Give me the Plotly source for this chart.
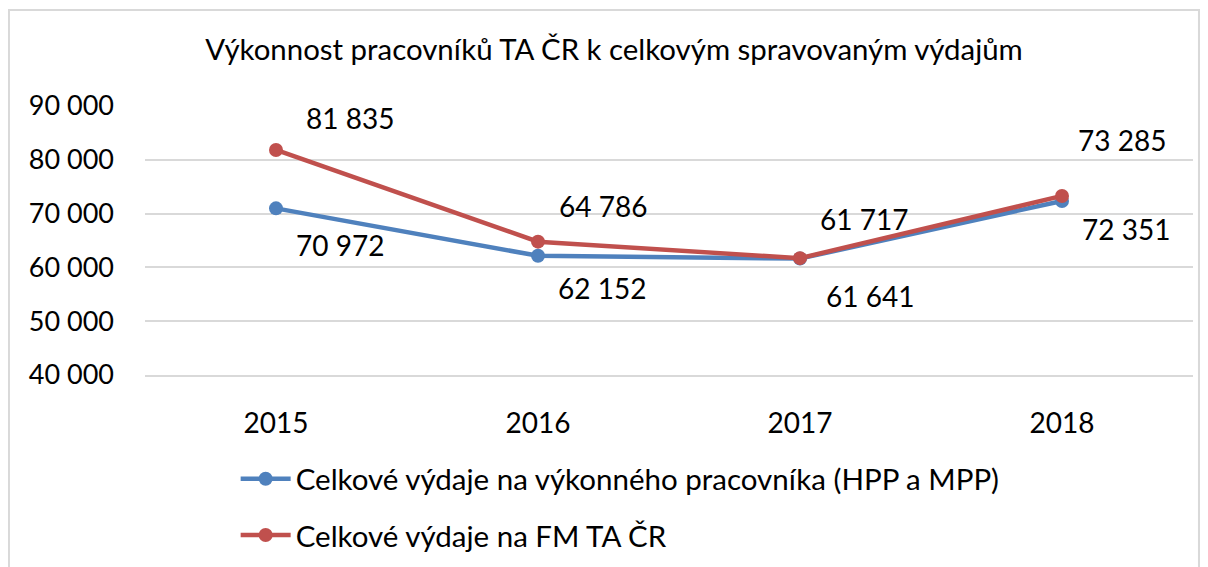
import plotly.graph_objects as go

# data
roky = ["2015", "2016", "2017", "2018"]
vydaje_pracovnik = [70972, 62152, 61641, 72351]
vydaje_fm = [81835, 64786, 61717, 73285]
y_ticks = [40000, 50000, 60000, 70000, 80000, 90000]
y_tick_text = ["40 000", "50 000", "60 000", "70 000", "80 000", "90 000"]

MODRA = "#4F81BD"
CERVENA = "#C0504D"
FONT = "Lato"


def fmt(v):
    return f"{v:,}".replace(",", " ")


fig = go.Figure()

fig.add_trace(go.Scatter(
    x=roky, y=vydaje_pracovnik,
    name="Celkové výdaje na výkonného pracovníka (HPP a MPP)",
    mode="lines+markers",
    line=dict(color=MODRA, width=4.5),
    marker=dict(color=MODRA, size=14),
    legendgroup="a",
))
fig.add_trace(go.Scatter(
    x=roky, y=vydaje_fm,
    name="Celkové výdaje na FM TA ČR",
    mode="lines+markers",
    line=dict(color=CERVENA, width=4.5),
    marker=dict(color=CERVENA, size=14),
    legendgroup="b",
))

# stranka ma okraj 8 px, proto 1200x559
fig.update_layout(
    width=1200, height=559,
    margin=dict(l=137, r=15, t=98, b=192, autoexpand=False),
    paper_bgcolor="white",
    plot_bgcolor="white",
    font=dict(family=FONT, size=27, color="black"),
    title=dict(
        text="Výkonnost pracovníků TA ČR k celkovým spravovaným výdajům",
        x=0.505, xanchor="center", y=0.926, yanchor="middle",
        font=dict(size=29.4, family=FONT, color="black"),
    ),
    xaxis=dict(
        type="category",
        range=[-0.5, 3.5],
        showgrid=False,
        showline=True, linecolor="#D9D9D9", linewidth=2,
        ticks="", ticklabelstandoff=22,
        tickfont=dict(size=28),
    ),
    yaxis=dict(
        range=[40000, 90000],
        tickvals=y_ticks, ticktext=y_tick_text,
        showgrid=True, gridcolor="#D9D9D9", gridwidth=2,
        zeroline=False, ticks="", ticklabelstandoff=30,
    ),
    showlegend=True,
    legend=dict(
        x=0.0865, y=-0.29, xanchor="left", yanchor="top",
        orientation="v", traceorder="grouped", tracegroupgap=15,
        itemwidth=50,
        font=dict(size=29.5, family=FONT),
        bgcolor="rgba(0,0,0,0)",
    ),
    shapes=[dict(
        type="rect", xref="paper", yref="paper",
        x0=-0.1298, x1=1.0057, y0=-0.8, y1=1.357,
        line=dict(color="#D9D9D9", width=2),
    )],
)

# popisky hodnot (posuny jako v puvodnim grafu)
posun_modra = [(64, -37), (64, -32), (70, -37), (64, -28)]
posun_cervena = [(74, 32), (65, 36), (64, 39), (60, 56)]
for rady, posuny in ((vydaje_pracovnik, posun_modra), (vydaje_fm, posun_cervena)):
    for i, (v, (dx, dy)) in enumerate(zip(rady, posuny)):
        fig.add_annotation(
            x=i, y=v, xref="x", yref="y", text=fmt(v), showarrow=False,
            xshift=dx, yshift=dy, font=dict(size=28, color="black", family=FONT),
        )

fig.write_html("out.html")
